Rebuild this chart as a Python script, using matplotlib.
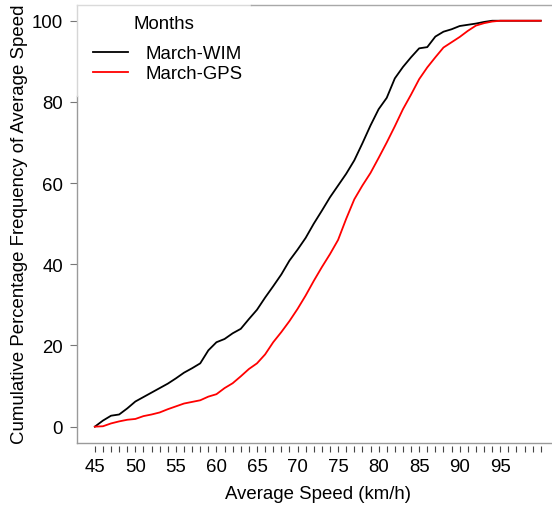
import matplotlib
matplotlib.use("Agg")
import matplotlib.pyplot as plt
from matplotlib.lines import Line2D

# Cumulative percentage of vehicles at or below each average speed (km/h)
speed = list(range(45, 101))
wim = [0, 1.5, 2.7, 3.0, 4.5, 6.2, 7.3, 8.4, 9.5, 10.6,
       11.9, 13.3, 14.4, 15.6, 18.8, 20.8, 21.6, 23.0, 24.1, 26.5,
       28.8, 31.8, 34.6, 37.5, 40.9, 43.6, 46.5, 50.0, 53.2, 56.5,
       59.4, 62.3, 65.6, 69.8, 74.2, 78.2, 81.0, 85.8, 88.6, 91.0,
       93.2, 93.5, 96.1, 97.3, 97.9, 98.7, 99.0, 99.3, 99.7, 100,
       100, 100, 100, 100, 100, 100]
gps = [0, 0.1, 0.8, 1.3, 1.7, 1.9, 2.6, 3.0, 3.5, 4.3,
       5.0, 5.7, 6.1, 6.5, 7.4, 8.0, 9.5, 10.7, 12.4, 14.2,
       15.6, 17.8, 20.8, 23.3, 26.0, 29.0, 32.3, 35.9, 39.3, 42.5,
       46.0, 51.2, 56.0, 59.4, 62.5, 66.2, 70.0, 74.0, 78.2, 81.8,
       85.6, 88.5, 91.0, 93.4, 94.7, 96.0, 97.5, 98.8, 99.4, 99.8,
       100, 100, 100, 100, 100, 100]
series_names = ["March-WIM", "March-GPS"]
legend_title = "Months"

x_ticks = list(range(45, 101))
x_tick_labels = [str(v) if v % 5 == 0 and v <= 95 else "" for v in x_ticks]
y_ticks = [0, 20, 40, 60, 80, 100]

plt.rcParams['font.family'] = ['Liberation Sans', 'DejaVu Sans']
FS = 13.4

W, H = 552, 510
fig = plt.figure(figsize=(W / 100, H / 100), dpi=100)
ax = fig.add_axes([77 / W, (H - 443.9) / H, (558.6 - 77) / W, (443.9 - 5.5) / H])

ax.plot(speed, wim, color='black', lw=1.3, label=series_names[0])
ax.plot(speed, gps, color='#ff0000', lw=1.3, label=series_names[1])

ax.set_xlim(42.8, 102.2)
ax.set_ylim(-4, 104)

# frame drawn by hand
for s in ax.spines.values():
    s.set_visible(False)
ax.spines['bottom'].set_position(('outward', 2.3))
frame = [
    ((0, 0), (0, 0.792), '#9a9a9a'),
    ((0, 0), (0.792, 1), '#d6d6d6'),
    ((0, 0.361), (1, 1), '#dadada'),
    ((0.361, 1), (1, 1), '#a8a8a8'),
    ((0, 1), (0, 0), '#9a9a9a'),
]
for xs, ys, c in frame:
    ax.add_line(Line2D(xs, ys, transform=ax.transAxes, color=c, lw=1.0,
                       clip_on=False, zorder=3))

ax.set_xticks(x_ticks)
ax.set_xticklabels(x_tick_labels)
ax.set_yticks(y_ticks)
ax.tick_params(axis='x', length=4.2, width=0.8, color='#444444', pad=4.5,
               labelsize=FS)
ax.tick_params(axis='y', length=5, width=0.8, color='#777777', pad=5,
               labelsize=FS)

ax.set_xlabel("Average Speed (km/h)", fontsize=FS)
ax.set_ylabel("Cumulative Percentage Frequency of Average Speed", fontsize=FS)
ax.xaxis.set_label_coords(0.5, -0.095)
ax.yaxis.set_label_coords(-0.102, 0.5)

leg = ax.legend(loc='upper left', frameon=False,
                fontsize=FS, handlelength=1.9,
                handletextpad=0.9, labelspacing=0.17,
                bbox_to_anchor=(93 / W, (H - 46) / H),
                bbox_transform=fig.transFigure, borderaxespad=0, borderpad=0)
fig.text(163.5 / W, (H - 29) / H, legend_title, fontsize=FS,
         ha='center', va='baseline')

fig.savefig("out.png", dpi=100)
